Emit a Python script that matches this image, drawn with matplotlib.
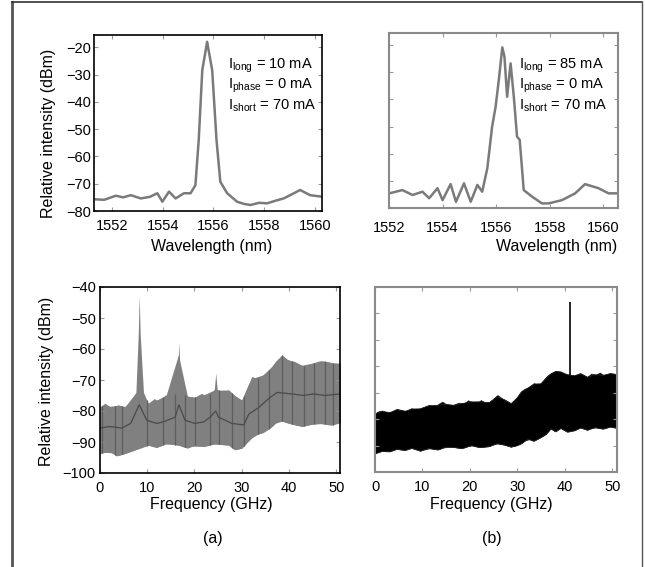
import numpy as np
import matplotlib.pyplot as plt
from matplotlib.lines import Line2D

plt.rcParams['font.family'] = ['Liberation Sans', 'DejaVu Sans']
plt.rcParams['mathtext.fontset'] = 'custom'
plt.rcParams['mathtext.rm'] = 'Liberation Sans'
plt.rcParams['mathtext.it'] = 'Liberation Sans:italic'

# optical spectrum (a): I_long = 10 mA
wl_a = [1551.31, 1551.7, 1552.16, 1552.45, 1552.75, 1553.14, 1553.5, 1553.79, 1553.99, 1554.25,
        1554.51, 1554.84, 1555.1, 1555.29, 1555.42, 1555.56, 1555.75, 1555.95, 1556.12,
        1556.27, 1556.54, 1556.93, 1557.2, 1557.45, 1557.8, 1558.11, 1558.45, 1558.76,
        1559.1, 1559.41, 1559.8, 1560.31]
pw_a = [-75.7, -75.9, -74.4, -75.0, -74.2, -75.4, -74.8, -73.5, -76.6, -72.9,
        -75.4, -73.5, -73.5, -70.5, -54, -28.4, -18, -28.4, -54,
        -69.3, -73.5, -76.6, -77.4, -77.8, -77.0, -77.2, -76.2, -75.4,
        -73.8, -72.3, -74.2, -74.8]

# optical spectrum (b): I_long = 85 mA
wl_b = [1552.01, 1552.5, 1552.88, 1553.25, 1553.5, 1553.81, 1554.0, 1554.3, 1554.5,
        1554.8, 1555.05, 1555.3, 1555.48, 1555.67, 1555.85, 1555.98, 1556.1, 1556.23,
        1556.31, 1556.41, 1556.54, 1556.66, 1556.78, 1556.88, 1557.03, 1557.34,
        1557.71, 1557.96, 1558.46, 1558.95, 1559.32, 1559.82, 1560.2, 1560.56]
pw_b = [-74.6, -73.4, -75.2, -74.0, -76.4, -72.7, -77.1, -71.2, -77.7,
        -70.9, -77.7, -71.5, -74.0, -65.4, -50.0, -42.7, -32.8, -20.8,
        -24.2, -39.0, -26.7, -39.0, -53.7, -54.9, -73.4, -75.8,
        -78.3, -78.3, -77.1, -74.6, -71.2, -72.7, -74.6, -74.6]

# RF spectrum (a): envelope of the noise band
fa_up = [0, 1.06, 2.5, 3.8, 5.3, 6.7, 7.6, 8.1, 8.3, 8.5, 9.2, 10.2, 11.5, 12.6, 13.8, 15.0,
         16.3, 16.7, 17.1, 18, 19.5, 21.5, 22.8, 24.2, 24.5, 24.8, 26, 27.2, 28.5, 30, 31.0,
         32.1, 33.5, 35, 36.2, 37.1, 38.5, 39.8, 41.3, 43, 44.9, 46.5, 48.4, 50.0, 51.2]
pa_up = [-78.6, -77.5, -79.0, -78.0, -78.6, -76.5, -74, -55, -42.6, -55, -74, -77.5, -76.0,
         -77.0, -74.8, -75.5, -74, -57.8, -74, -74.8, -76.0, -74.3, -75.5, -73, -67.8, -73,
         -74.0, -73.2, -75.0, -76.5, -73.0, -68.9, -69.5, -67.8, -66.0, -64.1, -61.9, -63.5,
         -64.1, -65.5, -64.6, -63.8, -64.1, -65.0, -64.6]
fa_lo = [0, 2, 3.5, 5.3, 7.5, 10.2, 12, 14, 16.6, 18.5, 20.1, 22, 24, 27.2, 28.5, 30, 31.5,
         32.8, 34.5, 36.4, 37.8, 40, 42.7, 45, 47, 49, 51.2]
pa_lo = [-93.7, -93.0, -94.5, -93.7, -92.5, -91, -91.8, -90.5, -91, -92.0, -91, -91.5, -90.6,
         -91, -92.5, -92, -89.5, -87.7, -87.0, -85, -82.9, -84.0, -85, -84.2, -84, -84.6, -83.5]
fa_mid = [0, 2, 4.6, 6.5, 8.3, 9.9, 12, 13.4, 15.9, 16.7, 18, 20.1, 22, 23.3, 24.5, 25.1,
          27.9, 30.4, 31.5, 33.5, 35.7, 37.5, 40.6, 43.1, 45.2, 47.6, 50.8]
pa_mid = [-85.5, -85, -85.5, -84, -78, -83, -84, -83.5, -82, -78, -83, -84, -83.5, -82, -80, -82,
          -84, -84.5, -81, -79, -76, -74, -74.5, -75, -74.5, -75, -74.5]
fa_spur = [0.35, 3.18, 4.6, 9.9, 13.4, 15.9, 18, 20.1, 23.3, 25.1, 27.9, 30.4,
           33.5, 35.7, 38.5, 40.6, 43.1, 45.2, 47.6, 49.4]

# RF spectrum (b)
fb_up = [0, 0.8, 1.5, 2.4, 3.4, 4.5, 5.5, 6.5, 7.6, 8.8, 10.4, 11.5, 12.5, 13.4, 14.2, 15.3,
         16.5, 17.6, 18.8, 19.6, 20.5, 21.4, 22.3, 23.2, 24, 25.0, 25.8, 26.8, 27.7, 28.6,
         29.6, 30.7, 31.6, 32.5, 33.5, 34.5, 35.6, 36.3, 37, 38.0, 39.1, 40.0, 41.9, 43.2,
         44.7, 45.6, 46.5, 47.4, 48.2, 49.5, 51]
pb_up = [-77.8, -77.0, -76.8, -77.6, -77.2, -76.2, -76.5, -77.0, -75.9, -76.4, -75.3, -74.6,
         -75.8, -74.2, -73.4, -74.8, -74.6, -73.8, -74, -72.9, -73.5, -74.2, -72.8, -73.7,
         -73.6, -72.4, -70.9, -72.2, -73.0, -74, -72.6, -69.6, -68.5, -67.8, -66.4, -67.2,
         -65.1, -63.6, -62.7, -61.8, -62, -62.9, -63.5, -62.6, -64, -62.8, -63.2, -62.4,
         -63.5, -62.6, -63]
fb_lo = [0, 1.4, 3, 4.6, 6.2, 7.8, 9.5, 11.2, 13.2, 14.8, 16.5, 18.3, 20.2, 22, 24, 25.6,
         27.2, 28.6, 30, 31, 32.1, 33.4, 34.9, 36, 37, 38.0, 39.1, 40.5, 42, 43.3, 44.7,
         46.2, 48, 49.5, 51]
pb_lo = [-92.9, -92.0, -92.2, -91.2, -91.7, -90.8, -92, -90.9, -91.5, -90.4, -90.5, -91.0,
         -89.8, -90.6, -90.2, -89.1, -89.6, -90.4, -89.8, -88.9, -87.3, -88.2, -86.8, -85.6,
         -83.5, -84.6, -83.3, -84.8, -84.2, -83.1, -84, -83.0, -83.6, -82.8, -83.3]
fb_tone = 41.0
pb_tone = -35.6

fig = plt.figure(figsize=(6.45, 5.67), dpi=100)
W, H = 645.0, 567.0


def box(l, t, r, b):
    return [l / W, 1 - b / H, (r - l) / W, (b - t) / H]


def style(ax, col, lw):
    for s in ax.spines.values():
        s.set_color(col)
        s.set_linewidth(lw)
    ax.tick_params(direction='in', length=3, width=0.8, color='#999999',
                   top=True, right=True, labelsize=10.5, pad=2)


ax1 = fig.add_axes(box(94, 35, 322, 211))
ax1.plot(wl_a, pw_a, color='#7a7a7a', lw=1.8)
ax1.set_xlim(1551.3, 1560.27)
ax1.set_ylim(-80, -15.5)
ax1.set_xticks([1552, 1554, 1556, 1558, 1560])
ax1.set_yticks([-20, -30, -40, -50, -60, -70, -80])
style(ax1, 'black', 1.2)
ax1.tick_params(axis='x', pad=6)
for lab in ax1.get_xticklabels():
    lab.set_clip_on(False)

ax2 = fig.add_axes(box(389, 33, 618, 208))
ax2.plot(wl_b, pw_b, color='#7a7a7a', lw=1.8)
ax2.set_xlim(1552.0, 1560.55)
ax2.set_ylim(-80, -15.5)
ax2.set_xticks([1552, 1554, 1556, 1558, 1560])
ax2.set_yticks([-20, -30, -40, -50, -60, -70, -80])
ax2.set_yticklabels([])
style(ax2, '#8a8a8a', 1.5)
ax2.tick_params(axis='x', pad=9)

ax3 = fig.add_axes(box(100, 287, 340, 473))
ax3.fill_between(fa_up, pa_up, np.interp(fa_up, fa_lo, pa_lo), color='#808080', lw=0)
ax3.fill_between(fa_lo, np.interp(fa_lo, fa_up, pa_up), pa_lo, color='#808080', lw=0)
ax3.vlines(fa_spur, np.interp(fa_spur, fa_lo, pa_lo), np.interp(fa_spur, fa_up, pa_up),
           color='#5e5e5e', lw=0.9)
ax3.plot(fa_mid, pa_mid, color='#4a4a4a', lw=0.9)
ax3.set_xlim(0, 50.8)
ax3.set_ylim(-100, -40)
ax3.set_xticks([0, 10, 20, 30, 40, 50])
ax3.set_yticks([-40, -50, -60, -70, -80, -90, -100])
style(ax3, 'black', 1.2)
ax3.tick_params(axis='x', pad=6)
ax3.tick_params(axis='y', pad=3)

ax4 = fig.add_axes(box(375, 287, 617, 472))
ax4.fill_between(fb_up, pb_up, np.interp(fb_up, fb_lo, pb_lo), color='black', lw=0.6,
                 edgecolor='#222222')
ax4.fill_between(fb_lo, np.interp(fb_lo, fb_up, pb_up), pb_lo, color='black', lw=0.6,
                 edgecolor='#222222')
ax4.vlines([fb_tone], [np.interp(fb_tone, fb_up, pb_up)], [pb_tone], color='black', lw=1.2)
ax4.set_xlim(0, 51)
ax4.set_ylim(-100, -30)
ax4.set_xticks([0, 10, 20, 30, 40, 50])
ax4.set_yticks([-40, -50, -60, -70, -80, -90])
ax4.set_yticklabels([])
style(ax4, '#8a8a8a', 1.5)
ax4.tick_params(axis='x', pad=6)

# axis titles
fig.text(49 / W, 1 - 133 / H, 'Relative intensity (dBm)', rotation=90,
         ha='center', va='center', fontsize=11.5)
fig.text(47 / W, 1 - 381 / H, 'Relative intensity (dBm)', rotation=90,
         ha='center', va='center', fontsize=11.5)
fig.text(212 / W, 1 - 246 / H, 'Wavelength (nm)', ha='center', va='center', fontsize=11.5)
fig.text(557 / W, 1 - 246 / H, 'Wavelength (nm)', ha='center', va='center', fontsize=11.5)
fig.text(211 / W, 1 - 504 / H, 'Frequency (GHz)', ha='center', va='center', fontsize=11.5)
fig.text(491 / W, 1 - 504 / H, 'Frequency (GHz)', ha='center', va='center', fontsize=11.5)
fig.text(213 / W, 1 - 538 / H, '(a)', ha='center', va='center', fontsize=11.5)
fig.text(492 / W, 1 - 538 / H, '(b)', ha='center', va='center', fontsize=11.5)

# bias currents
labels_a = [r'I$_{\mathrm{long}}$ = 10 mA', r'I$_{\mathrm{phase}}$ = 0 mA',
            r'I$_{\mathrm{short}}$ = 70 mA']
labels_b = [r'I$_{\mathrm{long}}$ = 85 mA', r'I$_{\mathrm{phase}}$ = 0 mA',
            r'I$_{\mathrm{short}}$ = 70 mA']
for yy, ta, tb in zip([66, 86, 106], labels_a, labels_b):
    fig.text(228 / W, 1 - yy / H, ta, ha='left', va='center', fontsize=10.5)
    fig.text(519 / W, 1 - yy / H, tb, ha='left', va='center', fontsize=10.5)

# outer frame (left, top, right)
fig.add_artist(Line2D([12 / W, 12 / W], [0, 1 - 2 / H], color='#555555', lw=2))
fig.add_artist(Line2D([12 / W, 642 / W], [1 - 2 / H, 1 - 2 / H], color='#333333', lw=1.2))
fig.add_artist(Line2D([642 / W, 642 / W], [0, 1 - 2 / H], color='#555555', lw=1))

fig.savefig('out.png', dpi=100)
